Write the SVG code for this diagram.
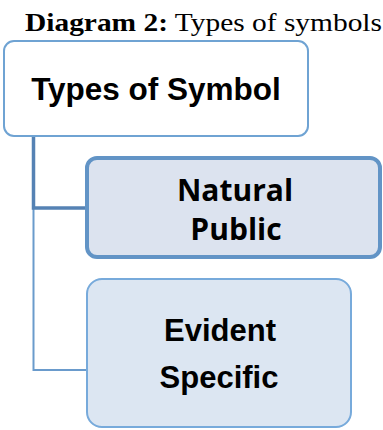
<svg xmlns="http://www.w3.org/2000/svg" width="383" height="430" viewBox="0 0 383 430">
<style>
.title{font-size:26px;fill:#000}
.lbl{font-weight:bold;fill:#000;text-anchor:middle}
.cal{font-weight:bold;fill:#000;text-anchor:middle}
</style>
<rect width="383" height="430" fill="#fff"/>
<text class="title" font-family="Liberation Serif, serif" x="25" y="31" textLength="357" lengthAdjust="spacingAndGlyphs"><tspan font-weight="bold">Diagram 2:</tspan> Types of symbols</text>
<g id="connectors" fill="none">
<path d="M33.5 137 V370 H86" stroke="#6a9bcc" stroke-width="2"/>
<path d="M33.5 137 V208 H86" stroke="#5582b4" stroke-width="3.5"/>
<path d="M86 370 H117" stroke="#b9cde6" stroke-width="2"/>
</g>
<g id="node-root">
<rect x="4" y="41" width="304" height="95" rx="10" fill="#fff" stroke="#6fa3d3" stroke-width="2"/>
<text class="lbl" font-family="Liberation Sans, sans-serif" x="156" y="100" font-size="31.5">Types of Symbol</text>
</g>
<g id="node-natural">
<rect x="87" y="158" width="293" height="99" rx="10" fill="#dce3ef" stroke="#6294c6" stroke-width="4"/>
<text class="cal" font-family="Open Sans, sans-serif" x="235" y="201" font-size="30">Natural</text>
<text class="cal" font-family="Open Sans, sans-serif" x="236" y="240" font-size="30">Public</text>
</g>
<g id="node-evident">
<rect x="87" y="279" width="264" height="148" rx="15" fill="#dce6f2" stroke="#77aadb" stroke-width="2"/>
<text class="lbl" font-family="Liberation Sans, sans-serif" x="220" y="341" font-size="31">Evident</text>
<text class="lbl" font-family="Liberation Sans, sans-serif" x="219" y="388" font-size="31">Specific</text>
</g>
</svg>
